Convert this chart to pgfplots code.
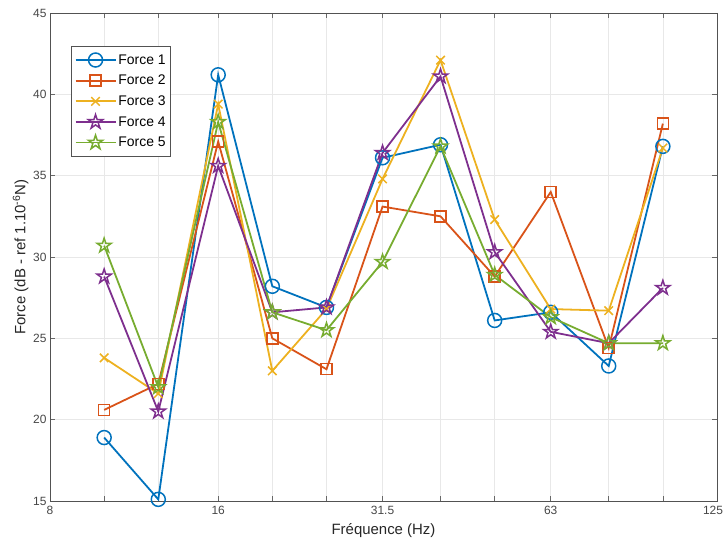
\documentclass[border=0pt]{standalone}
\usepackage{pgfplots}
\pgfplotsset{compat=1.18}
\usepackage{fontspec}
\setmainfont{Liberation Sans}
\definecolor{c1}{rgb}{0,0.447,0.741}
\definecolor{c2}{rgb}{0.85,0.325,0.098}
\definecolor{c3}{rgb}{0.929,0.694,0.125}
\definecolor{c4}{rgb}{0.494,0.184,0.556}
\definecolor{c5}{rgb}{0.466,0.674,0.188}
\definecolor{axgray}{rgb}{0.15,0.15,0.15}
\pgfdeclareplotmark{pentagram}{%
  \pgfpathmoveto{\pgfpointpolar{90}{\pgfplotmarksize}}%
  \pgfpathlineto{\pgfpointpolar{126}{0.382\pgfplotmarksize}}%
  \pgfpathlineto{\pgfpointpolar{162}{\pgfplotmarksize}}%
  \pgfpathlineto{\pgfpointpolar{198}{0.382\pgfplotmarksize}}%
  \pgfpathlineto{\pgfpointpolar{234}{\pgfplotmarksize}}%
  \pgfpathlineto{\pgfpointpolar{270}{0.382\pgfplotmarksize}}%
  \pgfpathlineto{\pgfpointpolar{306}{\pgfplotmarksize}}%
  \pgfpathlineto{\pgfpointpolar{342}{0.382\pgfplotmarksize}}%
  \pgfpathlineto{\pgfpointpolar{18}{\pgfplotmarksize}}%
  \pgfpathlineto{\pgfpointpolar{54}{0.382\pgfplotmarksize}}%
  \pgfpathclose
  \pgfusepathqstroke}
\begin{document}
\begin{tikzpicture}[x=1bp,y=1bp]
\begin{axis}[name=ax,
  scale only axis, width=667bp, height=488bp,
  xmode=log, log basis x=2,
  xmin=8, xmax=125, ymin=15, ymax=45,
  xtick={8,10,12.5,16,20,25,31.5,40,50,63,80,100,125},
  xticklabels={8,,,16,,,31.5,,,63,,,\hspace*{-8bp}125},
  ytick={15,20,...,45},
  /pgf/number format/assume math mode=true,
  ticklabel style={font=\fontsize{12}{14}\selectfont, text=axgray!85},
  xticklabel style={yshift=-1.5bp},
  tick align=inside, major tick length=5bp,
  tick style={axgray!70, line width=0.6pt},
  axis line style={axgray!80, line width=0.6pt},
  grid=major, major grid style={gray!18, line width=0.5pt},
  xlabel={Fréquence (Hz)}, ylabel={Force (dB - ref 1.10\textsuperscript{-6}N)},
  label style={font=\fontsize{15}{17}\selectfont, text=axgray},
  xlabel style={yshift=-2bp},
  ylabel style={yshift=-2bp},
  legend style={at={(0.032,0.932)}, anchor=north west, draw=axgray!80, line width=0.6pt,
    font=\fontsize{14}{16}\selectfont, row sep=5.5bp, inner xsep=3bp, inner ysep=6bp, cells={anchor=west}},
  legend cell align=left,
  legend image code/.code={\draw[mark repeat=2,mark phase=2] plot coordinates {(0bp,0bp) (20bp,0bp) (40bp,0bp)};},
  every axis plot/.append style={line width=1.8pt, mark size=7bp, mark options={solid, line width=1.5pt, fill=none}},
]
\addplot[c1, mark=o] coordinates {(10,18.9) (12.5,15.1) (16,41.2) (20,28.2) (25,26.9) (31.5,36.1) (40,36.9) (50,26.1) (63,26.6) (80,23.3) (100,36.8)};
\addplot[c2, mark=square, mark size=5.5bp] coordinates {(10,20.6) (12.5,22.2) (16,37.1) (20,25.0) (25,23.1) (31.5,33.1) (40,32.5) (50,28.8) (63,34.0) (80,24.4) (100,38.2)};
\addplot[c3, mark=x, mark size=6bp] coordinates {(10,23.8) (12.5,21.6) (16,39.4) (20,23.0) (25,26.8) (31.5,34.8) (40,42.1) (50,32.3) (63,26.8) (80,26.7) (100,36.7)};
\addplot[c4, mark=pentagram, mark size=7.5bp] coordinates {(10,28.8) (12.5,20.5) (16,35.6) (20,26.6) (25,26.9) (31.5,36.4) (40,41.1) (50,30.3) (63,25.4) (80,24.7) (100,28.1)};
\addplot[c5, mark=pentagram, mark size=7.5bp] coordinates {(10,30.7) (12.5,22.0) (16,38.3) (20,26.6) (25,25.5) (31.5,29.7) (40,36.8) (50,28.9) (63,26.3) (80,24.7) (100,24.7)};
\legend{Force 1, Force 2, Force 3, Force 4, Force 5}
\end{axis}
\pgfresetboundingbox
\useasboundingbox ([xshift=-50bp,yshift=-47bp]ax.south west) rectangle ([xshift=8bp,yshift=13bp]ax.north east);
\end{tikzpicture}
\end{document}
